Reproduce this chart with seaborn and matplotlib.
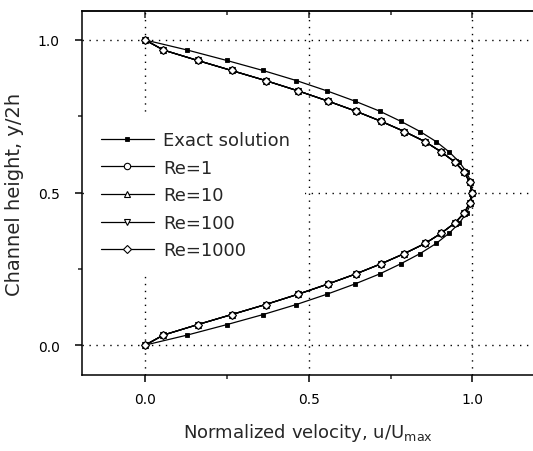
import seaborn as sns
import pandas as pd
import numpy as np
import matplotlib
matplotlib.use("Agg")
import matplotlib.pyplot as plt
from matplotlib.ticker import MultipleLocator

# channel height y/2h, 31 stations from wall to wall
y_pos = [0.000, 0.033, 0.067, 0.100, 0.133, 0.167, 0.200, 0.233, 0.267, 0.300,
         0.333, 0.367, 0.400, 0.433, 0.467, 0.500, 0.533, 0.567, 0.600, 0.633,
         0.667, 0.700, 0.733, 0.767, 0.800, 0.833, 0.867, 0.900, 0.933, 0.967, 1.000]

u_exact = [0.000, 0.129, 0.249, 0.360, 0.462, 0.556, 0.640, 0.716, 0.782, 0.840,
           0.889, 0.929, 0.960, 0.982, 0.996, 1.000, 0.996, 0.982, 0.960, 0.929,
           0.889, 0.840, 0.782, 0.716, 0.640, 0.556, 0.462, 0.360, 0.249, 0.129, 0.000]

u_re1 = [0.000, 0.056, 0.160, 0.264, 0.368, 0.468, 0.558, 0.643, 0.722, 0.792,
         0.855, 0.905, 0.946, 0.975, 0.992, 0.998, 0.992, 0.975, 0.946, 0.905,
         0.855, 0.792, 0.722, 0.643, 0.558, 0.468, 0.368, 0.264, 0.160, 0.056, 0.000]
u_re10 = [0.000, 0.056, 0.160, 0.264, 0.368, 0.468, 0.558, 0.643, 0.722, 0.792,
          0.855, 0.905, 0.946, 0.975, 0.992, 0.998, 0.992, 0.975, 0.946, 0.905,
          0.855, 0.792, 0.722, 0.643, 0.558, 0.468, 0.368, 0.264, 0.160, 0.056, 0.000]
u_re100 = [0.000, 0.056, 0.160, 0.264, 0.368, 0.468, 0.558, 0.643, 0.722, 0.792,
           0.855, 0.905, 0.946, 0.975, 0.992, 0.998, 0.992, 0.975, 0.946, 0.905,
           0.855, 0.792, 0.722, 0.643, 0.558, 0.468, 0.368, 0.264, 0.160, 0.056, 0.000]
u_re1000 = [0.000, 0.056, 0.160, 0.264, 0.368, 0.468, 0.558, 0.643, 0.722, 0.792,
            0.855, 0.905, 0.946, 0.975, 0.992, 0.998, 0.992, 0.975, 0.946, 0.905,
            0.855, 0.792, 0.722, 0.643, 0.558, 0.468, 0.368, 0.264, 0.160, 0.056, 0.000]

series_names = ["Exact solution", "Re=1", "Re=10", "Re=100", "Re=1000"]
series_vals = [u_exact, u_re1, u_re10, u_re100, u_re1000]
series_marks = ["s", "o", "^", "v", "D"]

sns.set_style("ticks")
plt.rcParams["font.family"] = ["DejaVu Sans"]

fig = plt.figure(figsize=(5.33, 4.52), dpi=100)
ax = fig.add_axes([82 / 533, 76 / 452, 451 / 533, 364 / 452])

for name, vals, mk in zip(series_names, series_vals, series_marks):
    df = pd.DataFrame({"u": vals, "y": y_pos})
    if name == "Exact solution":
        sns.lineplot(data=df, x="u", y="y", ax=ax, sort=False, estimator=None,
                     color="black", lw=0.9, marker=mk, markersize=2.2,
                     markerfacecolor="black", markeredgecolor="black",
                     markeredgewidth=0.6, label=name, zorder=3)
    else:
        sns.lineplot(data=df, x="u", y="y", ax=ax, sort=False, estimator=None,
                     color="black", lw=0.9, marker=mk,
                     markersize=4.6 if mk != "D" else 3.8,
                     markerfacecolor="white", markeredgecolor="black",
                     markeredgewidth=0.8, label=name, zorder=4)

ax.set_xlim(-0.193, 1.185)
ax.set_ylim(-0.098, 1.095)
ax.xaxis.set_major_locator(MultipleLocator(0.5))
ax.yaxis.set_major_locator(MultipleLocator(0.5))
ax.xaxis.set_minor_locator(MultipleLocator(0.25))
ax.yaxis.set_minor_locator(MultipleLocator(0.25))
ax.xaxis.set_major_formatter(matplotlib.ticker.FormatStrFormatter("%.1f"))
ax.yaxis.set_major_formatter(matplotlib.ticker.FormatStrFormatter("%.1f"))

ax.grid(True, which="major", color="black", lw=1.0, linestyle=(0, (1, 4)))
ax.set_axisbelow(True)

for side in ["left", "bottom", "top"]:
    ax.spines[side].set_linewidth(1.1)
    ax.spines[side].set_color("black")
ax.spines["right"].set_visible(False)
ax.spines["top"].set_visible(True)

ax.tick_params(which="major", direction="out", length=5, width=1.1,
               labelsize=10, colors="black")
ax.tick_params(which="minor", direction="out", length=3, width=1.1)
ax.tick_params(axis="x", which="major", pad=7)
ax.tick_params(axis="y", which="major", pad=11)

sec = ax.secondary_xaxis("top")
sec.xaxis.set_major_locator(MultipleLocator(0.5))
sec.xaxis.set_minor_locator(MultipleLocator(0.25))
sec.tick_params(which="major", direction="in", length=5, width=1.1, labeltop=False)
sec.tick_params(which="minor", direction="in", length=3, width=1.1)
sec.spines["top"].set_linewidth(1.1)

ax.set_xlabel(r"Normalized velocity, u/U$_{\mathrm{max}}$", fontsize=13, labelpad=11)
ax.set_ylabel("Channel height, y/2h", fontsize=14, labelpad=10)

leg = ax.legend(loc="upper left", bbox_to_anchor=(0.007, 0.712), borderaxespad=0,
                frameon=True, fontsize=13, handlelength=2.95, handletextpad=0.5,
                labelspacing=0.53, borderpad=0.85)
leg.get_frame().set_facecolor("white")
leg.get_frame().set_edgecolor("none")
leg.get_frame().set_alpha(1.0)
leg.set_zorder(5)

fig.savefig("out.png", dpi=100)
